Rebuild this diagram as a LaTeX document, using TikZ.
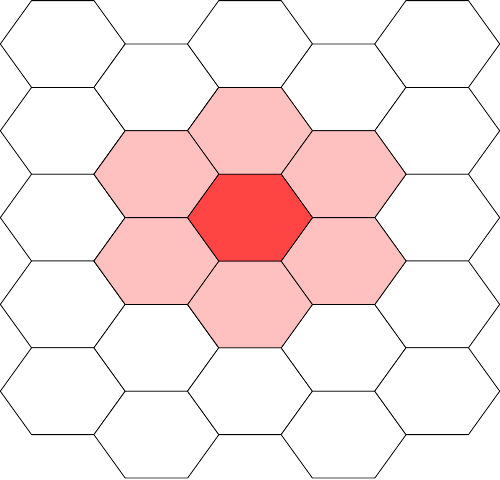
\documentclass[tikz,border=0pt]{standalone}
\definecolor{hexpink}{RGB}{255,192,192}
\definecolor{hexred}{RGB}{255,68,68}
\tikzset{
  hexcell/.style={draw=black, line width=0.8pt, line join=miter},
}
\newcommand{\hexat}[3]{% x, y, fill
  \path[hexcell, fill=#3] (#1-62.5,#2) -- (#1-31.25,#2-43.4) -- (#1+31.25,#2-43.4) -- (#1+62.5,#2) -- (#1+31.25,#2+43.4) -- (#1-31.25,#2+43.4) -- cycle;
}
\begin{document}
\begin{tikzpicture}[x=1pt,y=-1pt]
\useasboundingbox (0,0) rectangle (500,479);
\foreach \i in {0,...,4}{
  \foreach \j in {0,...,4}{
    \pgfmathsetmacro{\cx}{62.8+93.6*\i}
    \pgfmathsetmacro{\cy}{44+86.8*\j+43.4*mod(\i,2)}
    \hexat{\cx}{\cy}{white}
  }
}
% pink neighbours
\hexat{250.0}{130.8}{hexpink}
\hexat{250.0}{304.4}{hexpink}
\hexat{156.4}{174.2}{hexpink}
\hexat{156.4}{261.0}{hexpink}
\hexat{343.6}{174.2}{hexpink}
\hexat{343.6}{261.0}{hexpink}
% centre
\hexat{250.0}{217.6}{hexred}
\end{tikzpicture}
\end{document}
